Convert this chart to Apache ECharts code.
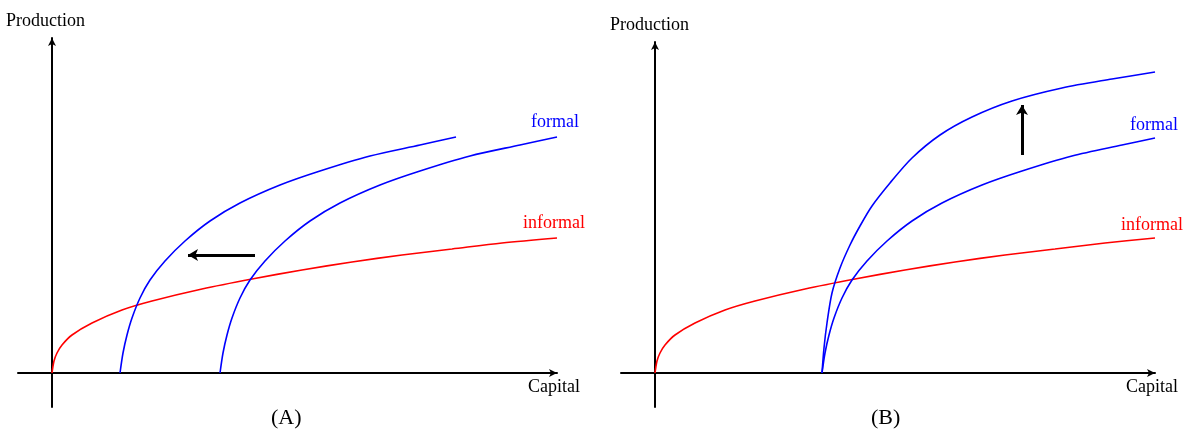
<!DOCTYPE html>
<html><head><meta charset="utf-8">
<script src="https://cdn.jsdelivr.net/npm/echarts@6/dist/echarts.min.js"></script>
<style>html,body{margin:0;background:#fff}#c{width:1197px;height:436px}</style>
</head><body><div id="c"></div>
<script>
const informalA=[[0,0],[2,12],[5,20],[10,28],[20,38],[40,50],[70,63],[100,72],[150,84],[200,94],[250,103],[300,111],[350,118],[400,124],[450,130],[505,135]];
const formalA1=[[68,0],[71,20],[75,38],[80,55],[88,75],[98,93],[113,112],[133,132],[158,152],[188,170],[228,188],[268,202],[318,217],[368,228],[404,236]];
const formalA2=[[168,0],[171,20],[175,38],[180,55],[188,75],[198,93],[213,112],[233,132],[258,152],[288,170],[328,188],[368,202],[418,217],[468,228],[505,236]];
const arrowA=[[203,118],[136,118]];
const informalB=[[0,0],[2,12],[5,20],[10,28],[20,38],[40,50],[70,63],[100,72],[150,84],[200,94],[250,103],[300,111],[350,118],[400,124],[450,130],[500,135]];
const formalB1=[[167,0],[169,25],[172,50],[177,80],[185,105],[195,128],[205,147],[217,167],[235,190],[257,215],[285,238],[317,256],[357,272],[407,285],[457,294],[500,301]];
const formalB2=[[167,0],[170,20],[174,38],[179,55],[187,75],[197,93],[212,112],[232,132],[257,152],[287,170],[327,188],[367,202],[417,217],[467,228],[500,235]];
const arrowB=[[367,218],[367,268]];
const F='"Liberation Serif", serif';
function ax(min,max){return {type:'value',min,max,splitLine:{show:false},axisTick:{show:false},axisLabel:{show:false},
 axisLine:{onZero:true,symbol:['none','arrow'],symbolSize:[6,8],lineStyle:{color:'#000',width:2}}};}
function curve(d,c,i){return {type:'line',data:d,smooth:0.3,showSymbol:false,xAxisIndex:i,yAxisIndex:i,lineStyle:{color:c,width:1.6},silent:true};}
function arr(d,i){return {type:'line',data:[],xAxisIndex:i,yAxisIndex:i,markLine:{silent:true,symbol:['none','arrow'],symbolSize:[9,10],label:{show:false},
 lineStyle:{color:'#000',width:3,type:'solid'},data:[[{coord:d[0]},{coord:d[1]}]]}};}
function t(x,y,s,c,sz){return {type:'text',left:x,top:y,style:{text:s,fill:c,font:(sz||18)+'px '+F}};}
const ch=echarts.init(document.getElementById('c'));
ch.setOption({animation:false,
 grid:[{left:18,top:38,width:539,height:369},{left:621,top:42,width:534,height:365}],
 xAxis:[ax(-34,505),Object.assign(ax(-34,500),{gridIndex:1})],
 yAxis:[ax(-34,335),Object.assign(ax(-34,331),{gridIndex:1})],
 series:[curve(informalA,'#ff0000',0),curve(formalA1,'#0000ff',0),curve(formalA2,'#0000ff',0),arr(arrowA,0),
  curve(informalB,'#ff0000',1),curve(formalB1,'#0000ff',1),curve(formalB2,'#0000ff',1),arr(arrowB,1)],
 graphic:[
  t(6,12,'Production','#000'),t(531,113,'formal','#0000ff'),t(523,214,'informal','#ff0000'),
  t(528,378,'Capital','#000'),t(271,407,'(A)','#000',22),
  t(610,16,'Production','#000'),t(1130,116,'formal','#0000ff'),t(1121,216,'informal','#ff0000'),
  t(1126,378,'Capital','#000'),t(871,407,'(B)','#000',22)
 ]});
</script></body></html>
